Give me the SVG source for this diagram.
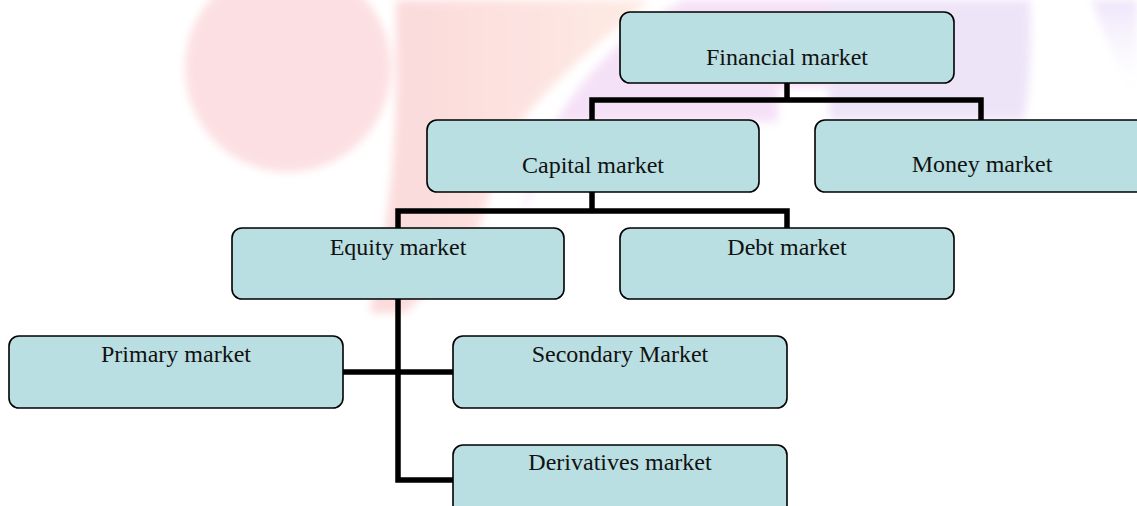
<svg xmlns="http://www.w3.org/2000/svg" width="1137" height="506" viewBox="0 0 1137 506">
  <defs>
    <filter id="soft" x="-10%" y="-10%" width="120%" height="120%">
      <feGaussianBlur stdDeviation="4"/>
    </filter>
    <linearGradient id="stemFill" x1="0" y1="0" x2="1" y2="0">
      <stop offset="0" stop-color="#fbd3d5"/>
      <stop offset="1" stop-color="#fee8e0"/>
    </linearGradient>
    <linearGradient id="topRight" x1="0" y1="0" x2="0" y2="1">
      <stop offset="0" stop-color="#ebe0f9"/>
      <stop offset="1" stop-color="#ffffff" stop-opacity="0"/>
    </linearGradient>
    <style>
      .box { fill: #b9dfe2; stroke: #000; stroke-width: 1.6; }
      .label { font-family: "Liberation Serif", "Times New Roman", serif; font-size: 24px; fill: #111; text-anchor: middle; }
      .link { fill: none; stroke: #000; stroke-width: 5.5; stroke-linejoin: miter; }
    </style>
  </defs>

  <rect width="1137" height="506" fill="#ffffff"/>

  <!-- faint background emblem -->
  <g id="emblem" filter="url(#soft)" opacity="0.85">
    <ellipse cx="288" cy="68" rx="103" ry="104" fill="#fcdadd"/>
    <path d="M396,0 L650,0 C615,30 560,72 518,125 C498,165 484,212 472,250 L405,313 L370,313 C386,240 398,150 396,60 Z" fill="url(#stemFill)"/>
    <path d="M524,212 C534,130 600,42 685,0 L830,0 L830,122 L828,88 L778,88 L778,122 L560,122 Z" fill="#f4dcf6"/>
    <path d="M830,0 L1030,0 C1032,40 1030,90 1024,120 L830,120 Z" fill="#ebe0f7"/>
    <path d="M1092,0 L1137,0 L1137,110 C1125,80 1105,40 1092,0 Z" fill="url(#topRight)"/>
  </g>

  <!-- connectors -->
  <g id="connectors">
    <path class="link" d="M787,83 V100"/>
    <path class="link" d="M592,120 V100 H981 V120"/>
    <path class="link" d="M592,192 V211"/>
    <path class="link" d="M398,228 V211 H787 V228"/>
    <path class="link" d="M398,299 V480 H453"/>
    <path class="link" d="M343,372 H453"/>
  </g>

  <g id="financial-market">
    <rect class="box" x="620" y="12" width="334" height="71" rx="10"/>
    <text class="label" x="787" y="65">Financial market</text>
  </g>
  <g id="capital-market">
    <rect class="box" x="427" y="120" width="332" height="72" rx="10"/>
    <text class="label" x="593" y="173">Capital market</text>
  </g>
  <g id="money-market">
    <rect class="box" x="815" y="120" width="334" height="72" rx="10"/>
    <text class="label" x="982" y="172">Money market</text>
  </g>
  <g id="equity-market">
    <rect class="box" x="232" y="228" width="332" height="71" rx="10"/>
    <text class="label" x="398" y="255">Equity market</text>
  </g>
  <g id="debt-market">
    <rect class="box" x="620" y="228" width="334" height="71" rx="10"/>
    <text class="label" x="787" y="255">Debt market</text>
  </g>
  <g id="primary-market">
    <rect class="box" x="9" y="336" width="334" height="72" rx="10"/>
    <text class="label" x="176" y="362">Primary market</text>
  </g>
  <g id="secondary-market">
    <rect class="box" x="453" y="336" width="334" height="72" rx="10"/>
    <text class="label" x="620" y="362">Secondary Market</text>
  </g>
  <g id="derivatives-market">
    <rect class="box" x="453" y="445" width="334" height="72" rx="10"/>
    <text class="label" x="620" y="470">Derivatives market</text>
  </g>
</svg>
